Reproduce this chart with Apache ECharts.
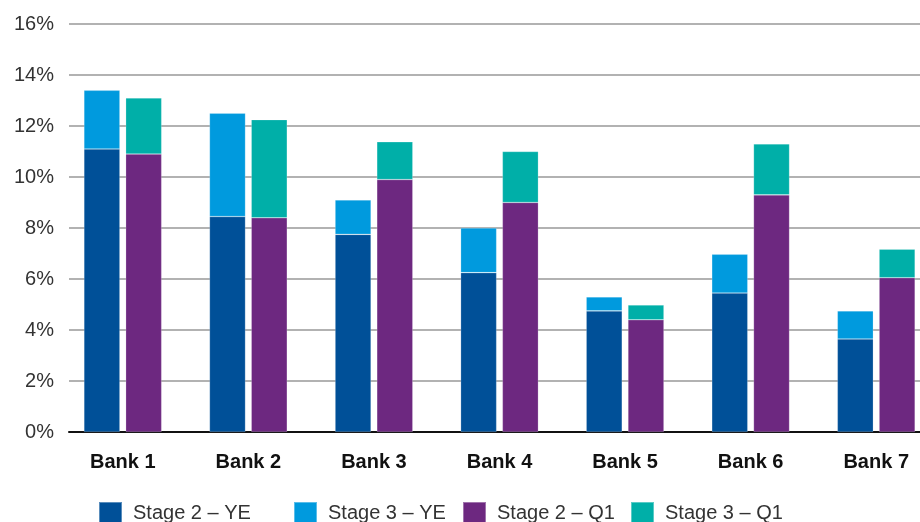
<!DOCTYPE html>
<html>
<head>
<meta charset="utf-8">
<script src="https://cdn.jsdelivr.net/npm/echarts@6/dist/echarts.min.js"></script>
<style>
html,body{margin:0;padding:0;background:#fff;}
#chart{width:920px;height:522px;}
</style>
</head>
<body>
<div id="chart"></div>
<script>
const categories = ['Bank 1', 'Bank 2', 'Bank 3', 'Bank 4', 'Bank 5', 'Bank 6', 'Bank 7'];
const stage2YE = [11.1, 8.45, 7.75, 6.25, 4.75, 5.45, 3.65];
const stage3YE = [2.3, 4.05, 1.35, 1.75, 0.55, 1.52, 1.1];
const stage2Q1 = [10.9, 8.4, 9.9, 9.0, 4.4, 9.3, 6.05];
const stage3Q1 = [2.2, 3.85, 1.48, 2.0, 0.58, 2.0, 1.12];
const seriesNames = ['Stage 2 – YE', 'Stage 3 – YE', 'Stage 2 – Q1', 'Stage 3 – Q1'];
const yTicks = { min: 0, max: 16, interval: 2 };

const colors = ['#005098', '#009ADE', '#6D2880', '#00AFA8'];
const font = 'Liberation Sans, Arial, sans-serif';

const chart = echarts.init(document.getElementById('chart'), null, { renderer: 'canvas' });

const legendLefts = [93, 288, 457, 625];
const legends = seriesNames.map((n, i) => ({
  data: [n],
  left: legendLefts[i],
  top: 496,
  orient: 'horizontal',
  icon: 'rect',
  itemWidth: 23,
  itemHeight: 23,
  itemGap: 10,
  textStyle: { fontSize: 20, color: '#333', fontFamily: font, padding: [0, 0, 0, 6] },
  selectedMode: false
}));

const option = {
  animation: false,
  backgroundColor: '#fff',
  color: colors,
  legend: legends,
  grid: [
    { left: 69, right: 0, top: 24, bottom: 90, outerBoundsMode: 'none', containLabel: false },
    { left: 60, width: 879, top: 24, bottom: 90, outerBoundsMode: 'none', containLabel: false }
  ],
  xAxis: [
    {
      gridIndex: 0, type: 'category', data: categories,
      axisLine: { show: true, lineStyle: { color: '#111', width: 2 } },
      axisTick: { show: false }, axisLabel: { show: false }, splitLine: { show: false }
    },
    {
      gridIndex: 1, type: 'category', data: categories,
      axisLine: { show: false }, axisTick: { show: false },
      axisLabel: { fontSize: 20, fontWeight: 'bold', color: '#111', fontFamily: font, margin: 20 }
    }
  ],
  yAxis: [
    {
      gridIndex: 0, type: 'value', min: yTicks.min, max: yTicks.max, interval: yTicks.interval,
      axisLine: { show: false }, axisTick: { show: false },
      axisLabel: { formatter: '{value}%', fontSize: 20, color: '#333', fontFamily: font, margin: 15 },
      splitLine: { show: true, lineStyle: { color: '#999', width: 1.5 } }
    },
    {
      gridIndex: 1, type: 'value', min: yTicks.min, max: yTicks.max, interval: yTicks.interval,
      show: false
    }
  ],
  series: [
    { name: seriesNames[0], type: 'bar', stack: 'YE', data: stage2YE, xAxisIndex: 1, yAxisIndex: 1, barWidth: 36, barGap: '16%',
      itemStyle: { color: colors[0], borderColor: 'rgba(255,255,255,0.35)', borderWidth: 0.6 } },
    { name: seriesNames[1], type: 'bar', stack: 'YE', data: stage3YE, xAxisIndex: 1, yAxisIndex: 1, barWidth: 36, barGap: '16%',
      itemStyle: { color: colors[1], borderColor: 'rgba(255,255,255,0.35)', borderWidth: 0.6 } },
    { name: seriesNames[2], type: 'bar', stack: 'Q1', data: stage2Q1, xAxisIndex: 1, yAxisIndex: 1, barWidth: 36, barGap: '16%',
      itemStyle: { color: colors[2], borderColor: 'rgba(255,255,255,0.35)', borderWidth: 0.6 } },
    { name: seriesNames[3], type: 'bar', stack: 'Q1', data: stage3Q1, xAxisIndex: 1, yAxisIndex: 1, barWidth: 36, barGap: '16%',
      itemStyle: { color: colors[3], borderColor: 'rgba(255,255,255,0.35)', borderWidth: 0.6 } }
  ]
};
chart.setOption(option);
</script>
</body>
</html>
